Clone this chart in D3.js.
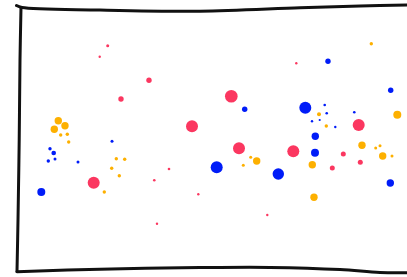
<!DOCTYPE html>
<html>
<head>
<meta charset="utf-8">
<script src="https://cdn.jsdelivr.net/npm/d3@7/dist/d3.min.js"></script>
<style>
  html, body { margin: 0; padding: 0; background: #fff; }
  svg { display: block; }
</style>
</head>
<body>
<svg id="chart" width="407" height="277"></svg>
<script>
// ---- data (chart units) ----
const seriesNames = ["A", "B", "C"];
const seriesColors = ["#fb3760", "#001cf8", "#fdb000"];

const redX = [87.7, 79.7, 129, 101, 172, 73.7, 149, 134.3, 178.3, 137, 276.3, 211.3, 338.7, 219, 273.3, 323.3, 340.3, 312.3, 247.3];
const redY = [224.3, 213.3, 189.7, 171, 143.7, 87.3, 101, 89.7, 75.7, 46.3, 206.7, 173.7, 145, 121.7, 118.7, 116, 107.7, 102, 55];
const redSize = [2.25, 1.44, 7.3, 7.3, 36, 36, 1.7, 1.7, 1.44, 1.44, 1.44, 40, 36, 36, 36, 6.25, 6.25, 6.25, 1.44];

const blueX = [30, 33.7, 28.3, 35, 58, 92, 21.3, 308, 370.7, 224.7, 285.3, 304.7, 306.7, 292, 299.7, 315.3, 334.3, 295.3, 295, 196.7, 258.3, 370.3];
const blueY = [121.3, 117, 109, 111, 108, 128.7, 78, 208.7, 179.7, 160.7, 162.3, 165, 156.7, 148.7, 150, 143, 157.7, 133.7, 117.3, 102.7, 96, 87];
const blueSize = [2.9, 5.3, 2.9, 2.25, 2.25, 2.25, 16, 7.3, 7.3, 7.3, 36, 1.7, 1.7, 1.44, 1.2, 1.44, 1.7, 13.7, 16, 36, 32.5, 13.7];

const orangeX = [38.3, 45, 34.3, 40.7, 47.3, 48.7, 96.3, 104.7, 91.7, 99.3, 84.3, 351.3, 299, 306.3, 377.3, 342, 355.7, 360, 362.7, 372, 292.3, 230.7, 236.7, 223.3, 294];
const orangeY = [149.3, 144.3, 140.7, 135, 135.7, 128, 111.3, 110.7, 101.7, 94.3, 78, 226.3, 155.7, 144, 155.3, 124.7, 122, 124.3, 114, 114, 105.3, 112.7, 109, 104.7, 72.7];
const orangeSize = [13.7, 13.7, 13.7, 2.9, 2.9, 2.9, 2.9, 2.9, 2.9, 2.9, 2.9, 2.9, 4, 2.9, 16, 13.7, 2.25, 2.25, 13.7, 2.25, 13.7, 2.25, 13.7, 2.25, 13.7];

const series = [
  { name: seriesNames[0], color: seriesColors[0], x: redX, y: redY, s: redSize },
  { name: seriesNames[1], color: seriesColors[1], x: blueX, y: blueY, s: blueSize },
  { name: seriesNames[2], color: seriesColors[2], x: orangeX, y: orangeY, s: orangeSize }
];

// ---- layout ----
const svg = d3.select("#chart");
const x = d3.scaleLinear().domain([0, 400]).range([20, 420]);
const y = d3.scaleLinear().domain([0, 260]).range([270, 10]);
const r = d3.scaleSqrt().domain([0, 36]).range([0, 6]);

// hand-drawn frame
const line = d3.line().curve(d3.curveCatmullRom.alpha(0.5));
const frameParts = [
  [[16.5, 5.5], [22, 7.5], [100, 10], [200, 11.2], [300, 7.8], [360, 6], [410, 5]],
  [[21, 7.5], [20, 60], [19.2, 140], [18, 220], [17, 271.5]],
  [[17, 271.8], [100, 269.2], [200, 267.6], [270, 267.4], [340, 269.5], [380, 272.4], [410, 272.6]]
];
svg.append("g")
  .selectAll("path")
  .data(frameParts)
  .join("path")
  .attr("d", d => line(d))
  .attr("fill", "none")
  .attr("stroke", "#111")
  .attr("stroke-width", 3)
  .attr("stroke-linecap", "round")
  .attr("stroke-linejoin", "round");

// points
const g = svg.append("g");
series.forEach(sr => {
  const pts = sr.x.map((v, i) => ({ x: v, y: sr.y[i], s: sr.s[i] }));
  g.append("g")
    .selectAll("circle")
    .data(pts)
    .join("circle")
    .attr("cx", d => x(d.x))
    .attr("cy", d => y(d.y))
    .attr("r", d => r(d.s))
    .attr("fill", sr.color);
});
</script>
</body>
</html>
